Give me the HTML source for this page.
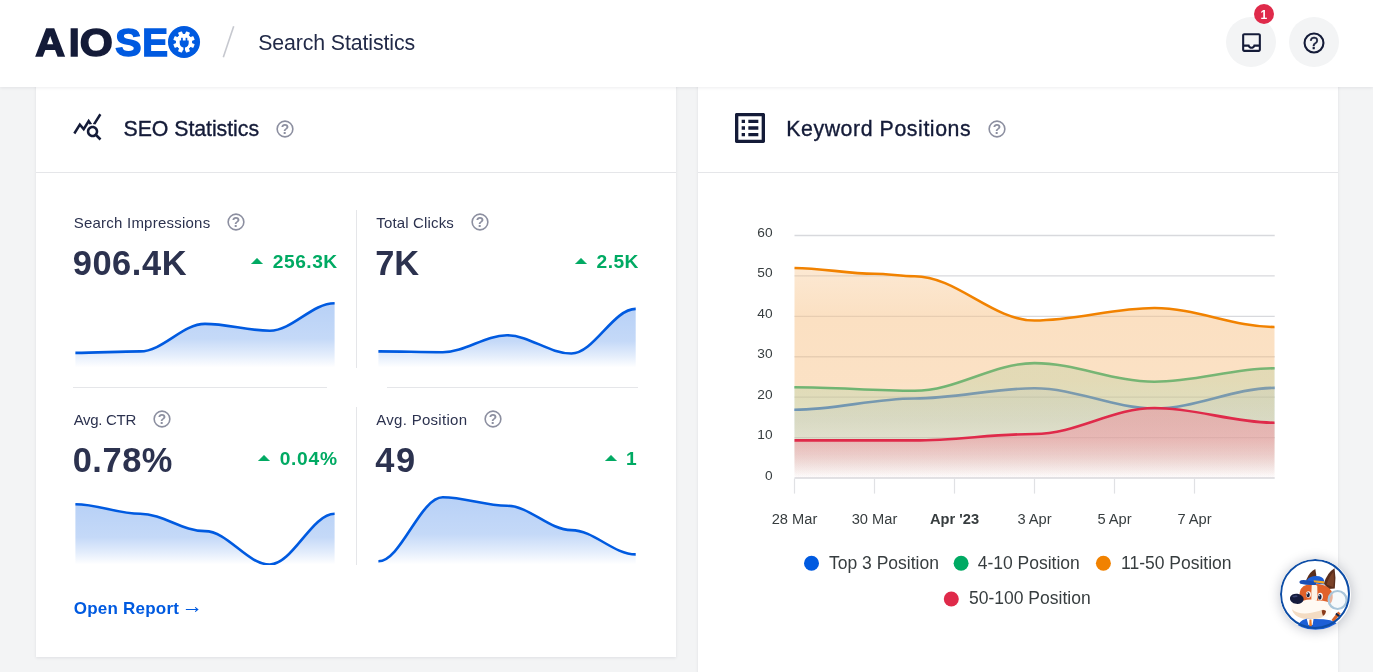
<!DOCTYPE html>
<html lang="en">
<head>
<meta charset="utf-8">
<title>Search Statistics</title>
<style>
html,body{margin:0;padding:0;background:#f3f4f5;}
body{width:1373px;height:672px;overflow:hidden;background:#f3f4f5;position:relative;font-family:"Liberation Sans",sans-serif;color:#141b38;}
.abs{position:absolute;}
.t{position:absolute;line-height:1;white-space:nowrap;}
.b{font-weight:bold;}
.lg{font-size:39.4px;text-align:center;-webkit-text-stroke:1.5px currentColor;}
.lg span{display:inline-block;}
.sb{-webkit-text-stroke:0.35px currentColor;}
#hdr{position:absolute;left:0;top:0;width:1373px;height:87px;background:#fff;box-shadow:0 1px 3px rgba(20,27,56,0.08);z-index:2;}
.card{position:absolute;background:#fff;box-shadow:0 1px 3px rgba(20,27,56,0.09);}
.hl{position:absolute;height:1px;background:#e5e6e9;}
.vl{position:absolute;width:1px;background:#e5e6e9;}
.circ{position:absolute;width:50px;height:50px;border-radius:50%;background:#f3f4f5;}
svg text{font-family:"Liberation Sans",sans-serif;}
#layer{position:absolute;left:0;top:0;width:1373px;height:672px;z-index:3;}
</style>
</head>
<body>
<div class="card" style="left:35.7px;top:80px;width:640.5px;height:577px;"></div>
<div class="card" style="left:697.7px;top:80px;width:640.7px;height:640px;"></div>
<div id="hdr"></div>
<div id="layer">
<div class="hl" style="left:35.7px;top:172px;width:640.5px;"></div>
<div class="hl" style="left:697.7px;top:172px;width:640.7px;"></div>
<div class="vl" style="left:356px;top:210px;height:158px;"></div>
<div class="vl" style="left:356px;top:407px;height:158px;"></div>
<div class="hl" style="left:73px;top:387px;width:254px;"></div>
<div class="hl" style="left:387px;top:387px;width:251px;"></div>

<!-- logo -->
<div class="t b lg" style="left:35.00px;width:31.00px;top:23.25px;color:#141b38"><span style="transform:scaleX(1.050)">A</span></div><div class="t b lg" style="left:68.80px;width:7.50px;top:23.25px;color:#141b38"><span style="transform:scaleX(1.000)">I</span></div><div class="t b lg" style="left:80.50px;width:32.00px;top:23.25px;color:#141b38"><span style="transform:scaleX(1.080)">O</span></div><div class="t b lg" style="left:115.30px;width:25.90px;top:23.25px;color:#005ae0"><span style="transform:scaleX(1.000)">S</span></div><div class="t b lg" style="left:142.20px;width:21.80px;top:23.25px;color:#005ae0"><span style="transform:scaleX(0.980)">E</span></div>
<svg class="abs" style="left:166px;top:23.85px" width="36" height="36" viewBox="-18 -18 36 36"><circle cx="0" cy="0" r="16.05" fill="#005ae0"/><path d="M7.45 1.48 L9.98 2.56 L8.87 5.24 L6.32 4.22 L4.22 6.32 L5.24 8.87 L2.56 9.98 L1.48 7.45 L-1.48 7.45 L-2.56 9.98 L-5.24 8.87 L-4.22 6.32 L-6.32 4.22 L-8.87 5.24 L-9.98 2.56 L-7.45 1.48 L-7.45 -1.48 L-9.98 -2.56 L-8.87 -5.24 L-6.32 -4.22 L-4.22 -6.32 L-5.24 -8.87 L-2.56 -9.98 L-1.48 -7.45 L1.48 -7.45 L2.56 -9.98 L5.24 -8.87 L4.22 -6.32 L6.32 -4.22 L8.87 -5.24 L9.98 -2.56 L7.45 -1.48Z" fill="#fff" stroke="#fff" stroke-width="1.2" stroke-linejoin="round"/><circle cx="0" cy="0" r="7.8" fill="#fff"/>
<path d="M-4.3 -1.6 H4.7 V1.2 A4.5 4.5 0 0 1 1 5.4 V9.6 H-0.6 V5.4 A4.5 4.5 0 0 1 -4.3 1.2 Z" fill="#005ae0"/><rect x="-2.9" y="-4.2" width="1.7" height="3.4" fill="#005ae0"/><rect x="1.6" y="-4.2" width="1.7" height="3.4" fill="#005ae0"/></svg>
<svg class="abs" style="left:215px;top:20px" width="30" height="44" viewBox="215 20 30 44"><line x1="223.3" y1="57.2" x2="233.7" y2="26.3" stroke="#c6c8cf" stroke-width="1.6"/></svg>

<!-- header buttons -->
<div class="circ" style="left:1226.25px;top:17.1px;"></div>
<div class="circ" style="left:1288.9px;top:17px;"></div>
<svg class="abs" style="left:1239px;top:29.7px" width="25" height="25" viewBox="0 0 24 24"><rect x="4.5" y="15" width="15" height="4.5" fill="#fff"/><path fill="#141b38" d="M19 3H5c-1.1 0-2 .9-2 2v14c0 1.1.9 2 2 2h14c1.1 0 2-.9 2-2V5c0-1.1-.9-2-2-2zm0 16H5v-3h3.56c.69 1.19 1.97 2 3.45 2s2.75-.81 3.45-2H19v3zm0-5h-4.99c0 1.1-.9 2-2 2s-2-.9-2-2H5V5h14v9z"/></svg>
<svg class="abs" style="left:1301.8px;top:30.8px" width="24" height="24" viewBox="0 0 24 24"><circle cx="12" cy="12" r="9.45" fill="none" stroke="#141b38" stroke-width="2.1"/><text x="12" y="17.6" text-anchor="middle" font-size="16" fill="#141b38" stroke="#141b38" stroke-width="0.55">?</text></svg>
<div class="abs" style="left:1253.9px;top:3.7px;width:20.4px;height:20.4px;border-radius:50%;background:#df2a4a;"></div>
<div class="t b" style="left:1260.4px;top:8.8px;font-size:12px;color:#fff;">1</div>

<!-- card icons -->
<svg class="abs" style="left:72.4px;top:111.4px" width="30.7" height="30.7" viewBox="0 0 24 24"><path fill="#141b38" d="M19.88 18.47c.44-.7.7-1.51.7-2.39 0-2.49-2.01-4.5-4.5-4.5s-4.5 2.01-4.5 4.5 2.01 4.5 4.49 4.5c.88 0 1.7-.26 2.39-.7L21.58 23 23 21.58l-3.12-3.11zm-3.8.11c-1.38 0-2.5-1.12-2.5-2.5s1.12-2.5 2.5-2.5 2.5 1.12 2.5 2.5-1.12 2.5-2.5 2.5zm-.36-8.5c-.74.02-1.45.18-2.1.45l-.55-.83-3.8 6.18-3.01-3.52-3.63 5.81L1 17l5-8 3 3.5L13 6l2.72 4.08zm2.59.5c-.64-.28-1.33-.45-2.05-.5L21.38 2 23 3.18l-4.69 7.4z"/></svg>
<svg class="abs" style="left:729.9px;top:107.8px" width="40" height="40" viewBox="0 0 24 24"><path fill="#141b38" d="M11 7h6v2h-6zm0 4h6v2h-6zm0 4h6v2h-6zM7 7h2v2H7zm0 4h2v2H7zm0 4h2v2H7zM20.1 3H3.9c-.5 0-.9.4-.9.9v16.2c0 .4.4.9.9.9h16.2c.4 0 .9-.5.9-.9V3.9c0-.5-.5-.9-.9-.9zM19 19H5V5h14v14z"/></svg>

<!-- mascot -->
<div class="abs" style="left:1280.2px;top:559.4px;width:70.6px;height:70.6px;border-radius:50%;background:#fff;box-shadow:0 1px 12px rgba(20,27,56,0.25);z-index:5;overflow:hidden;">
<svg width="70.6" height="70.6" viewBox="42 58 580 580" style="position:absolute;left:0;top:0;">
<!-- ears -->
<path d="M255 235 Q285 160 332 140 Q345 190 338 240 Z" fill="#5b2e1c"/>
<path d="M402 262 Q430 170 490 135 Q505 220 492 300 L440 305 Z" fill="#5b2e1c"/>
<path d="M425 268 Q445 200 482 165 Q490 230 480 290 Z" fill="#7a4228"/>
<!-- head -->
<path d="M205 330 Q215 270 300 262 Q420 255 465 320 Q490 380 455 430 L220 430 Q195 380 205 330 Z" fill="#e1622a"/>
<path d="M303 272 Q330 264 348 278 Q352 330 345 400 L300 400 Q298 330 303 272 Z" fill="#fdf3e6"/>
<!-- cap -->
<path d="M262 232 Q280 200 340 198 Q395 198 405 235 L405 268 Q330 262 262 250 Z" fill="#1d5fd6"/>
<path d="M203 240 Q215 225 262 232 L340 250 L335 272 Q260 275 210 262 Q198 252 203 240 Z" fill="#1a4fb5"/>
<path d="M318 232 L405 240 L405 262 L322 250 Z" fill="#f5a623"/>
<!-- muzzle -->
<path d="M132 425 Q150 395 230 400 Q300 380 345 400 Q420 395 470 430 Q480 500 420 535 Q330 575 220 545 Q130 510 132 425 Z" fill="#fffaf3"/>
<path d="M140 470 Q200 520 300 500 Q360 490 400 470 Q420 520 380 540 Q300 565 220 545 Q150 520 140 470 Z" fill="#f3dcc3"/>
<path d="M385 480 Q405 470 420 485 Q415 520 395 525 Q385 505 385 480 Z" fill="#8a3b1c"/>
<!-- nose -->
<ellipse cx="180" cy="385" rx="57" ry="42" fill="#151c3d" transform="rotate(8 180 385)"/>
<ellipse cx="165" cy="365" rx="22" ry="8" fill="#3a4370" transform="rotate(-5 165 365)"/>
<!-- eyes -->
<ellipse cx="276" cy="350" rx="20" ry="27" fill="#fff"/><ellipse cx="273" cy="352" rx="14" ry="21" fill="#1a2340"/><circle cx="268" cy="343" r="5" fill="#fff"/>
<ellipse cx="372" cy="366" rx="22" ry="30" fill="#fff"/><ellipse cx="369" cy="369" rx="15" ry="23" fill="#1a2340"/><circle cx="363" cy="359" r="5.5" fill="#fff"/>
<!-- body -->
<path d="M180 640 Q190 560 260 548 L400 552 Q520 560 560 640 Z" fill="#1d5fd6"/>
<path d="M262 548 L318 548 L310 600 L275 600 Z" fill="#fff"/>
<path d="M284 556 L300 556 L304 610 L282 610 Z" fill="#ee7a22"/>
<!-- magnifier -->
<circle cx="515" cy="395" r="74" fill="#eef4f8" fill-opacity="0.55" stroke="#a9c6da" stroke-width="18"/>
<path d="M520 490 L540 505 L485 575 L465 560 Z" fill="#d9642a"/>
<path d="M505 500 L535 520 L525 535 L497 515 Z" fill="#1a2340"/>
</svg>
<div style="position:absolute;left:0;top:0;width:65.8px;height:65.8px;border-radius:50%;border:2.4px solid #0d4da6;"></div>
</div>

<svg class="abs" style="left:0;top:0" width="1373" height="672" viewBox="0 0 1373 672">
<defs>
<linearGradient id="gsp" x1="0" y1="0" x2="0" y2="1"><stop offset="0" stop-color="#005ae0" stop-opacity="0.28"/><stop offset="0.55" stop-color="#005ae0" stop-opacity="0.23"/><stop offset="0.8" stop-color="#005ae0" stop-opacity="0.11"/><stop offset="1" stop-color="#005ae0" stop-opacity="0"/></linearGradient>
<linearGradient id="gb" gradientUnits="userSpaceOnUse" x1="0" y1="0" x2="0" y2="478"><stop offset="0.7950" stop-color="#7da3ea" stop-opacity="0.180"/><stop offset="0.8787" stop-color="#7da3ea" stop-opacity="0.180"/><stop offset="0.9310" stop-color="#7da3ea" stop-opacity="0.080"/><stop offset="1.0000" stop-color="#7da3ea" stop-opacity="0.000"/></linearGradient>
<linearGradient id="gg" gradientUnits="userSpaceOnUse" x1="0" y1="0" x2="0" y2="478"><stop offset="0.7531" stop-color="#5ccf9f" stop-opacity="0.290"/><stop offset="0.8368" stop-color="#5ccf9f" stop-opacity="0.290"/><stop offset="0.9205" stop-color="#5ccf9f" stop-opacity="0.170"/><stop offset="1.0000" stop-color="#5ccf9f" stop-opacity="0.000"/></linearGradient>
<linearGradient id="go" gradientUnits="userSpaceOnUse" x1="0" y1="0" x2="0" y2="478"><stop offset="0.5565" stop-color="#f7c185" stop-opacity="0.360"/><stop offset="0.6653" stop-color="#f7c185" stop-opacity="0.500"/><stop offset="0.7950" stop-color="#f7c185" stop-opacity="0.480"/><stop offset="0.9205" stop-color="#f7c185" stop-opacity="0.300"/><stop offset="1.0000" stop-color="#f7c185" stop-opacity="0.000"/></linearGradient>
<linearGradient id="gr" gradientUnits="userSpaceOnUse" x1="0" y1="0" x2="0" y2="478"><stop offset="0.8494" stop-color="#ee8c9b" stop-opacity="0.500"/><stop offset="0.9205" stop-color="#ee8c9b" stop-opacity="0.480"/><stop offset="0.9519" stop-color="#ee8c9b" stop-opacity="0.330"/><stop offset="0.9791" stop-color="#ee8c9b" stop-opacity="0.150"/><stop offset="1.0000" stop-color="#ee8c9b" stop-opacity="0.020"/></linearGradient>
</defs>
<clipPath id="cs1"><rect x="74.9" y="294.0" width="260.2" height="74.0"/></clipPath><g clip-path="url(#cs1)"><path d="M75.40 352.90 C98.08 352.90 117.52 351.40 140.20 351.40 C162.88 351.40 182.32 323.90 205.00 323.90 C227.68 323.90 247.12 330.70 269.80 330.70 C292.48 330.70 311.92 303.20 334.60 303.20 L334.60 367.50 L75.40 367.50 Z" fill="url(#gsp)"/><path d="M75.40 352.90 C98.08 352.90 117.52 351.40 140.20 351.40 C162.88 351.40 182.32 323.90 205.00 323.90 C227.68 323.90 247.12 330.70 269.80 330.70 C292.48 330.70 311.92 303.20 334.60 303.20" fill="none" stroke="#005ae0" stroke-width="2.6"/></g>
<clipPath id="cs2"><rect x="377.9" y="294.0" width="258.3" height="74.0"/></clipPath><g clip-path="url(#cs2)"><path d="M378.40 351.40 C400.91 351.40 420.21 352.20 442.73 352.20 C465.24 352.20 484.54 335.30 507.05 335.30 C529.56 335.30 548.86 353.50 571.38 353.50 C593.89 353.50 613.19 308.90 635.70 308.90 L635.70 367.50 L378.40 367.50 Z" fill="url(#gsp)"/><path d="M378.40 351.40 C400.91 351.40 420.21 352.20 442.73 352.20 C465.24 352.20 484.54 335.30 507.05 335.30 C529.56 335.30 548.86 353.50 571.38 353.50 C593.89 353.50 613.19 308.90 635.70 308.90" fill="none" stroke="#005ae0" stroke-width="2.6"/></g>
<clipPath id="cs3"><rect x="74.9" y="491.0" width="260.2" height="74.0"/></clipPath><g clip-path="url(#cs3)"><path d="M75.40 504.30 C98.08 504.30 117.52 513.80 140.20 513.80 C162.88 513.80 182.32 531.10 205.00 531.10 C227.68 531.10 247.12 564.50 269.80 564.50 C292.48 564.50 311.92 513.80 334.60 513.80 L334.60 564.50 L75.40 564.50 Z" fill="url(#gsp)"/><path d="M75.40 504.30 C98.08 504.30 117.52 513.80 140.20 513.80 C162.88 513.80 182.32 531.10 205.00 531.10 C227.68 531.10 247.12 564.50 269.80 564.50 C292.48 564.50 311.92 513.80 334.60 513.80" fill="none" stroke="#005ae0" stroke-width="2.6"/></g>
<clipPath id="cs4"><rect x="377.9" y="491.0" width="258.3" height="74.0"/></clipPath><g clip-path="url(#cs4)"><path d="M378.40 561.30 C400.91 561.30 420.21 497.30 442.73 497.30 C465.24 497.30 484.54 505.80 507.05 505.80 C529.56 505.80 548.86 530.10 571.38 530.10 C593.89 530.10 613.19 554.40 635.70 554.40 L635.70 564.50 L378.40 564.50 Z" fill="url(#gsp)"/><path d="M378.40 561.30 C400.91 561.30 420.21 497.30 442.73 497.30 C465.24 497.30 484.54 505.80 507.05 505.80 C529.56 505.80 548.86 530.10 571.38 530.10 C593.89 530.10 613.19 554.40 635.70 554.40" fill="none" stroke="#005ae0" stroke-width="2.6"/></g>

<line x1="794.5" x2="1274.7" y1="235.50" y2="235.50" stroke="#d8d9dd" stroke-width="1.3"/><line x1="794.5" x2="1274.7" y1="275.92" y2="275.92" stroke="#d8d9dd" stroke-width="1.3"/><line x1="794.5" x2="1274.7" y1="316.33" y2="316.33" stroke="#d8d9dd" stroke-width="1.3"/><line x1="794.5" x2="1274.7" y1="356.75" y2="356.75" stroke="#d8d9dd" stroke-width="1.3"/><line x1="794.5" x2="1274.7" y1="397.17" y2="397.17" stroke="#d8d9dd" stroke-width="1.3"/><line x1="794.5" x2="1274.7" y1="437.58" y2="437.58" stroke="#d8d9dd" stroke-width="1.3"/><line x1="794.5" x2="1274.7" y1="478.00" y2="478.00" stroke="#d8d9dd" stroke-width="1.3"/><line x1="794.5" x2="794.5" y1="478.5" y2="493.6" stroke="#e0e1e4" stroke-width="1.2"/><line x1="874.5" x2="874.5" y1="478.5" y2="493.6" stroke="#e0e1e4" stroke-width="1.2"/><line x1="954.5" x2="954.5" y1="478.5" y2="493.6" stroke="#e0e1e4" stroke-width="1.2"/><line x1="1034.5" x2="1034.5" y1="478.5" y2="493.6" stroke="#e0e1e4" stroke-width="1.2"/><line x1="1114.5" x2="1114.5" y1="478.5" y2="493.6" stroke="#e0e1e4" stroke-width="1.2"/><line x1="1194.5" x2="1194.5" y1="478.5" y2="493.6" stroke="#e0e1e4" stroke-width="1.2"/>
<path d="M794.50 409.70 C836.50 409.70 872.50 398.50 914.50 398.50 C956.50 398.50 992.50 388.30 1034.50 388.30 C1076.50 388.30 1112.50 408.40 1154.50 408.40 C1196.50 408.40 1232.50 387.90 1274.50 387.90 L1274.50 478.00 L794.50 478.00 Z" fill="url(#gb)"/><path d="M794.50 409.70 C836.50 409.70 872.50 398.50 914.50 398.50 C956.50 398.50 992.50 388.30 1034.50 388.30 C1076.50 388.30 1112.50 408.40 1154.50 408.40 C1196.50 408.40 1232.50 387.90 1274.50 387.90" fill="none" stroke="#005ae0" stroke-width="2.6"/>
<path d="M794.50 387.30 C836.50 387.30 872.50 390.80 914.50 390.80 C956.50 390.80 992.50 363.10 1034.50 363.10 C1076.50 363.10 1112.50 381.70 1154.50 381.70 C1196.50 381.70 1232.50 368.30 1274.50 368.30 L1274.50 478.00 L794.50 478.00 Z" fill="url(#gg)"/><path d="M794.50 387.30 C836.50 387.30 872.50 390.80 914.50 390.80 C956.50 390.80 992.50 363.10 1034.50 363.10 C1076.50 363.10 1112.50 381.70 1154.50 381.70 C1196.50 381.70 1232.50 368.30 1274.50 368.30" fill="none" stroke="#00aa63" stroke-width="2.6"/>
<path d="M794.50 268.00 C822.50 268.00 846.50 273.80 874.50 273.80 C888.50 273.80 900.50 276.20 914.50 276.20 C956.50 276.20 992.50 320.50 1034.50 320.50 C1076.50 320.50 1112.50 308.00 1154.50 308.00 C1196.50 308.00 1232.50 327.00 1274.50 327.00 L1274.50 478.00 L794.50 478.00 Z" fill="url(#go)"/><path d="M794.50 268.00 C822.50 268.00 846.50 273.80 874.50 273.80 C888.50 273.80 900.50 276.20 914.50 276.20 C956.50 276.20 992.50 320.50 1034.50 320.50 C1076.50 320.50 1112.50 308.00 1154.50 308.00 C1196.50 308.00 1232.50 327.00 1274.50 327.00" fill="none" stroke="#f18200" stroke-width="2.6"/>
<path d="M794.50 440.40 C836.50 440.40 872.50 440.40 914.50 440.40 C956.50 440.40 992.50 434.00 1034.50 434.00 C1076.50 434.00 1112.50 408.00 1154.50 408.00 C1196.50 408.00 1232.50 422.70 1274.50 422.70 L1274.50 478.00 L794.50 478.00 Z" fill="url(#gr)"/><path d="M794.50 440.40 C836.50 440.40 872.50 440.40 914.50 440.40 C956.50 440.40 992.50 434.00 1034.50 434.00 C1076.50 434.00 1112.50 408.00 1154.50 408.00 C1196.50 408.00 1232.50 422.70 1274.50 422.70" fill="none" stroke="#df2a4a" stroke-width="2.6"/>
<text x="772.5" y="237.00" text-anchor="end" font-size="13.7" fill="#373d3f">60</text><text x="772.5" y="277.42" text-anchor="end" font-size="13.7" fill="#373d3f">50</text><text x="772.5" y="317.83" text-anchor="end" font-size="13.7" fill="#373d3f">40</text><text x="772.5" y="358.25" text-anchor="end" font-size="13.7" fill="#373d3f">30</text><text x="772.5" y="398.67" text-anchor="end" font-size="13.7" fill="#373d3f">20</text><text x="772.5" y="439.08" text-anchor="end" font-size="13.7" fill="#373d3f">10</text><text x="772.5" y="479.50" text-anchor="end" font-size="13.7" fill="#373d3f">0</text><text x="794.5" y="524.1" text-anchor="middle" font-size="14.67" fill="#373d3f">28 Mar</text><text x="874.5" y="524.1" text-anchor="middle" font-size="14.67" fill="#373d3f">30 Mar</text><text x="954.5" y="524.1" text-anchor="middle" font-size="14.67" fill="#373d3f" font-weight="bold">Apr '23</text><text x="1034.5" y="524.1" text-anchor="middle" font-size="14.67" fill="#373d3f">3 Apr</text><text x="1114.5" y="524.1" text-anchor="middle" font-size="14.67" fill="#373d3f">5 Apr</text><text x="1194.5" y="524.1" text-anchor="middle" font-size="14.67" fill="#373d3f">7 Apr</text>
<circle cx="811.5" cy="563.3" r="7.5" fill="#005ae0"/><text x="829.0" y="568.75" font-size="17.5" fill="#373d3f">Top 3 Position</text><circle cx="961.1" cy="563.3" r="7.5" fill="#00aa63"/><text x="977.7" y="568.75" font-size="17.5" fill="#373d3f">4-10 Position</text><circle cx="1103.4" cy="563.3" r="7.5" fill="#f18200"/><text x="1121.0" y="568.75" font-size="17.5" fill="#373d3f">11-50 Position</text><circle cx="951.3" cy="599.0" r="7.5" fill="#df2a4a"/><text x="969.0" y="604.45" font-size="17.5" fill="#373d3f">50-100 Position</text>
</svg>
<div class="t " id="t1" style="left:258.20px;top:32.57px;font-size:21.30px;color:#222a48;letter-spacing:-0.106px">Search Statistics</div>
<div class="t sb" id="t2" style="left:123.50px;top:118.77px;font-size:21.30px;color:#141b38;letter-spacing:-0.044px">SEO Statistics</div>
<div class="t sb" id="t3" style="left:786.20px;top:118.57px;font-size:21.30px;color:#141b38;letter-spacing:0.582px">Keyword Positions</div>
<svg class="abs" style="left:275.00px;top:118.70px" width="20" height="20" viewBox="0 0 20 20"><circle cx="10" cy="10" r="7.85" fill="none" stroke="#8c8fa0" stroke-width="1.6"/><text x="10" y="15" text-anchor="middle" font-family="Liberation Sans, sans-serif" font-size="13.8" font-weight="bold" fill="#8c8fa0">?</text></svg>
<svg class="abs" style="left:987.10px;top:118.70px" width="20" height="20" viewBox="0 0 20 20"><circle cx="10" cy="10" r="7.85" fill="none" stroke="#8c8fa0" stroke-width="1.6"/><text x="10" y="15" text-anchor="middle" font-family="Liberation Sans, sans-serif" font-size="13.8" font-weight="bold" fill="#8c8fa0">?</text></svg>
<div class="t " id="t4" style="left:73.70px;top:215.20px;font-size:15.00px;color:#2c324f;letter-spacing:0.230px">Search Impressions</div>
<svg class="abs" style="left:226.20px;top:211.50px" width="20" height="20" viewBox="0 0 20 20"><circle cx="10" cy="10" r="7.85" fill="none" stroke="#8c8fa0" stroke-width="1.6"/><text x="10" y="15" text-anchor="middle" font-family="Liberation Sans, sans-serif" font-size="13.8" font-weight="bold" fill="#8c8fa0">?</text></svg>
<div class="t b" id="t5" style="left:72.70px;top:245.88px;font-size:34.40px;color:#2c324f;letter-spacing:0.582px">906.4K</div>
<div class="t b" id="t6" style="right:1035.80px;top:252.45px;font-size:19.20px;color:#00aa63;letter-spacing:0.504px;margin-right:-0.504px">256.3K</div>
<svg class="abs" style="left:250.90px;top:258.40px" width="12.00" height="6.00" viewBox="0 0 12 6"><path d="M6 0.3 L11.6 6 L0.4 6 Z" fill="#00aa63" stroke="#00aa63" stroke-width="0.6" stroke-linejoin="round"/></svg>
<div class="t " id="t7" style="left:376.30px;top:215.20px;font-size:15.00px;color:#2c324f;letter-spacing:0.153px">Total Clicks</div>
<svg class="abs" style="left:470.00px;top:211.50px" width="20" height="20" viewBox="0 0 20 20"><circle cx="10" cy="10" r="7.85" fill="none" stroke="#8c8fa0" stroke-width="1.6"/><text x="10" y="15" text-anchor="middle" font-family="Liberation Sans, sans-serif" font-size="13.8" font-weight="bold" fill="#8c8fa0">?</text></svg>
<div class="t b" id="t8" style="left:375.30px;top:245.88px;font-size:34.40px;color:#2c324f;letter-spacing:-0.084px">7K</div>
<div class="t b" id="t9" style="right:734.70px;top:252.45px;font-size:19.20px;color:#00aa63;letter-spacing:0.392px;margin-right:-0.392px">2.5K</div>
<svg class="abs" style="left:575.20px;top:258.40px" width="12.00" height="6.00" viewBox="0 0 12 6"><path d="M6 0.3 L11.6 6 L0.4 6 Z" fill="#00aa63" stroke="#00aa63" stroke-width="0.6" stroke-linejoin="round"/></svg>
<div class="t " id="t10" style="left:73.70px;top:412.20px;font-size:15.00px;color:#2c324f;letter-spacing:-0.306px">Avg. CTR</div>
<svg class="abs" style="left:152.10px;top:408.50px" width="20" height="20" viewBox="0 0 20 20"><circle cx="10" cy="10" r="7.85" fill="none" stroke="#8c8fa0" stroke-width="1.6"/><text x="10" y="15" text-anchor="middle" font-family="Liberation Sans, sans-serif" font-size="13.8" font-weight="bold" fill="#8c8fa0">?</text></svg>
<div class="t b" id="t11" style="left:72.70px;top:442.88px;font-size:34.40px;color:#2c324f;letter-spacing:0.557px">0.78%</div>
<div class="t b" id="t12" style="right:1036.00px;top:449.45px;font-size:19.20px;color:#00aa63;letter-spacing:0.739px;margin-right:-0.739px">0.04%</div>
<svg class="abs" style="left:258.30px;top:455.40px" width="12.00" height="6.00" viewBox="0 0 12 6"><path d="M6 0.3 L11.6 6 L0.4 6 Z" fill="#00aa63" stroke="#00aa63" stroke-width="0.6" stroke-linejoin="round"/></svg>
<div class="t " id="t13" style="left:376.30px;top:412.20px;font-size:15.00px;color:#2c324f;letter-spacing:0.286px">Avg. Position</div>
<svg class="abs" style="left:483.10px;top:408.50px" width="20" height="20" viewBox="0 0 20 20"><circle cx="10" cy="10" r="7.85" fill="none" stroke="#8c8fa0" stroke-width="1.6"/><text x="10" y="15" text-anchor="middle" font-family="Liberation Sans, sans-serif" font-size="13.8" font-weight="bold" fill="#8c8fa0">?</text></svg>
<div class="t b" id="t14" style="left:375.30px;top:442.88px;font-size:34.40px;color:#2c324f;letter-spacing:1.517px">49</div>
<div class="t b" id="t15" style="right:736.30px;top:449.45px;font-size:19.20px;color:#00aa63;letter-spacing:-1.772px;margin-right:1.772px">1</div>
<svg class="abs" style="left:605.20px;top:455.40px" width="12.00" height="6.00" viewBox="0 0 12 6"><path d="M6 0.3 L11.6 6 L0.4 6 Z" fill="#00aa63" stroke="#00aa63" stroke-width="0.6" stroke-linejoin="round"/></svg>
<div class="t b" id="t16" style="left:73.70px;top:600.01px;font-size:17.00px;color:#005ae0;letter-spacing:0.232px">Open Report</div>
<div class="t " id="t17" style="left:181.50px;top:596.26px;font-size:21.25px;color:#005ae0">&rarr;</div>

</div>
</body>
</html>
